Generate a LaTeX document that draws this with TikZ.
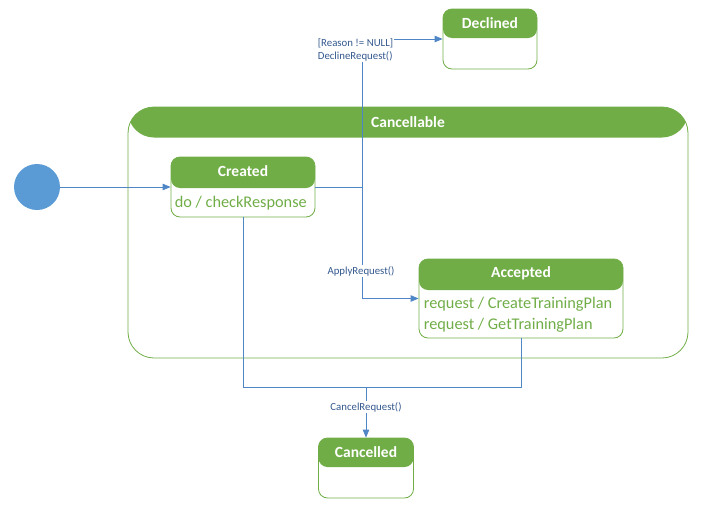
\documentclass[tikz,border=0pt]{standalone}
\usepackage{fontspec}
\setmainfont{Carlito}
\usetikzlibrary{arrows.meta,calc}
\definecolor{hdr}{HTML}{70AD47}
\definecolor{conn}{HTML}{4F86C6}
\definecolor{initc}{HTML}{5B9BD5}
\definecolor{lbl}{HTML}{34598E}
\tikzset{
  statebox/.style={draw=hdr, line width=0.8pt, rounded corners=#1, inner sep=0pt},
  statebox/.default=9pt,
  hdrfill/.style={path picture={\fill[hdr] (path picture bounding box.north west) rectangle ([yshift=-#1]path picture bounding box.north east);}},
  titletext/.style={text=white, font=\fontsize{15.5}{17}\selectfont\bfseries, inner sep=0pt},
  bodytext/.style={text=hdr, font=\fontsize{16.3}{21}\selectfont, inner sep=0pt, align=left, anchor=west},
  connline/.style={draw=conn, line width=0.8pt},
  arr/.style={connline, -{Triangle[length=8pt,width=6.5pt]}},
  trlabel/.style={text=lbl, font=\fontsize{10.8}{13}\selectfont, fill=white, inner sep=1pt, align=left}
}
\begin{document}
\begin{tikzpicture}[x=1pt,y=-1pt]
\useasboundingbox (0,0) rectangle (705,509);
% container
\node[statebox=26pt, hdrfill=30.5pt, minimum width=560pt, minimum height=251pt] (cancellable) at (408,232.5) {};
\node[titletext] (cancellabletitle) at ([yshift=-15.5pt]cancellable.north) {Cancellable};
% states
\node[statebox, hdrfill=31pt, minimum width=144pt, minimum height=60pt] (created) at (243,187) {};
\node[titletext] (createdtitle) at ([yshift=-15pt]created.north) {Created};
\node[bodytext] (createdbody) at ([xshift=4pt,yshift=-46.5pt]created.north west) {do / checkResponse};

\node[statebox, hdrfill=31pt, minimum width=204pt, minimum height=79pt] (accepted) at (521,298.5) {};
\node[titletext] (acceptedtitle) at ([yshift=-15pt]accepted.north) {Accepted};
\node[bodytext] (acceptedbody) at ([xshift=5pt,yshift=-56pt]accepted.north west) {request / CreateTrainingPlan\\request / GetTrainingPlan};

\node[statebox, hdrfill=29pt, minimum width=94pt, minimum height=60pt] (declined) at (490,39) {};
\node[titletext] (declinedtitle) at ([yshift=-14.5pt]declined.north) {Declined};

\node[statebox, hdrfill=29pt, minimum width=95pt, minimum height=60pt] (cancelled) at (366,468) {};
\node[titletext] (cancelledtitle) at ([yshift=-14.5pt]cancelled.north) {Cancelled};

% initial
\node[circle, fill=initc, minimum size=46pt, inner sep=0pt] (init) at (37,187) {};

% connectors
\coordinate (j1) at (362,187);
\coordinate (j2) at (366,387);
\draw[arr] (init) -- (created.west);
\draw[connline] (created.east) -- (j1);
\draw[arr] (j1) |- (declined.west);
\draw[arr] (j1) |- (accepted.west);
\draw[connline] (created.south) |- (j2);
\draw[connline] (accepted.south) |- (j2);
\draw[arr] (j2) -- (cancelled.north);

% labels
\node[trlabel] (declinelbl) at (355.5,49.5) {[Reason != NULL]\\DeclineRequest()};
\node[trlabel] (applylbl) at (361,271) {ApplyRequest()};
\node[trlabel] (cancellbl) at (366,407) {CancelRequest()};
\end{tikzpicture}
\end{document}
